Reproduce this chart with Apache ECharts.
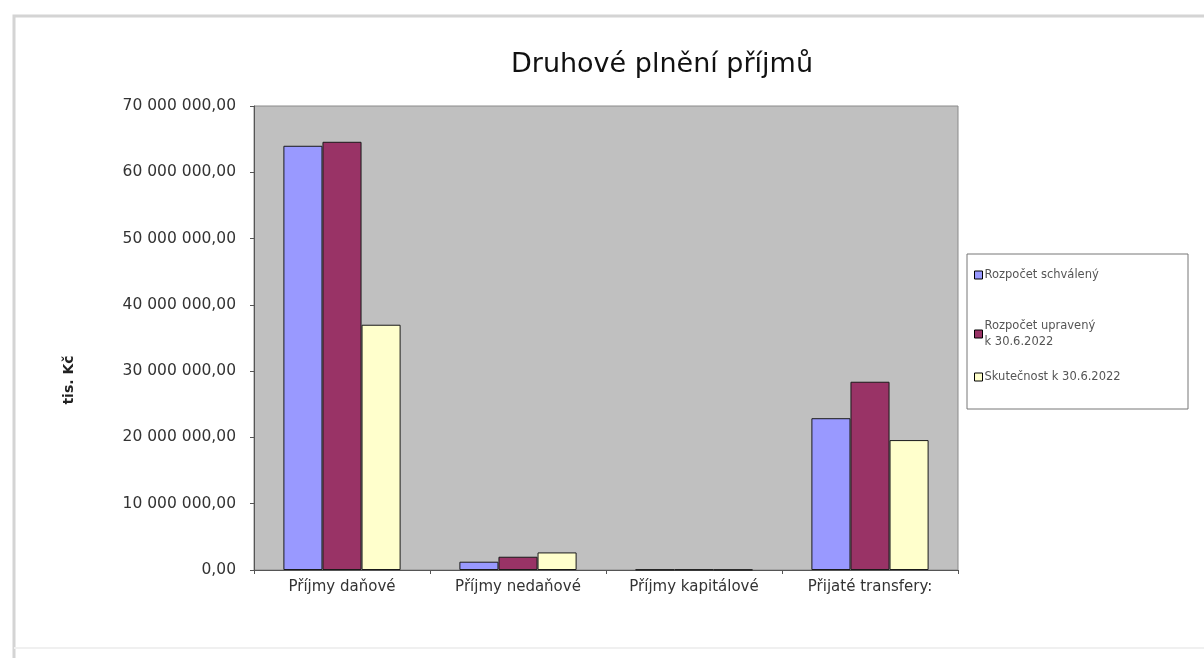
<!DOCTYPE html>
<html><head><meta charset="utf-8">
<script src="https://cdn.jsdelivr.net/npm/echarts@6/dist/echarts.min.js"></script>
<style>html,body{margin:0;padding:0;background:#fff}#c{width:1204px;height:660px}</style>
</head><body><div id="c"></div>
<script>
const categories = ['Příjmy daňové', 'Příjmy nedaňové', 'Příjmy kapitálové', 'Přijaté transfery:'];
const seriesNames = ['Rozpočet schválený', 'Rozpočet upravený\nk 30.6.2022', 'Skutečnost k 30.6.2022'];
const schvaleny = [64000000, 1250000, 60000, 22900000];
const upraveny = [64600000, 2000000, 70000, 28400000];
const skutecnost = [37000000, 2650000, 40000, 19600000];
const yTicks = [0, 10000000, 20000000, 30000000, 40000000, 50000000, 60000000, 70000000];

const colors = ['#9999ff', '#993366', '#ffffcc'];
const values = [schvaleny, upraveny, skutecnost];

function fmt(v) {
  const s = Math.round(v).toString().replace(/\B(?=(\d{3})+(?!\d))/g, ' ');
  return s + ',00';
}

const chart = echarts.init(document.getElementById('c'));
const font = 'DejaVu Sans, Verdana, sans-serif';
chart.setOption({
  backgroundColor: '#fff',
  animation: false,
  textStyle: { fontFamily: font },
  title: {
    text: 'Druhové plnění příjmů',
    left: 657, top: 46, textAlign: 'center',
    textStyle: { fontSize: 27, fontWeight: 'normal', color: '#111', fontFamily: font }
  },
  graphic: [
    { type: 'polyline', shape: { points: [[14, 658], [14, 16], [1204, 16]] }, style: { fill: 'none', stroke: '#d4d4d4', lineWidth: 3 }, silent: true },
    { type: 'line', shape: { x1: 14, y1: 648, x2: 1204, y2: 648 }, style: { stroke: '#f0f0f0', lineWidth: 2 }, silent: true },
    { type: 'rect', shape: { x: 967, y: 254, width: 221, height: 155 }, style: { fill: '#fff', stroke: '#777', lineWidth: 1 }, silent: true, z: -1 }
  ],
  legend: seriesNames.map((n, i) => ({
    data: [n],
    left: 969,
    top: [262, 313, 364][i],
    icon: 'rect',
    itemWidth: 8, itemHeight: 8, itemGap: 2,
    itemStyle: { borderColor: '#000', borderWidth: 1 },
    textStyle: { fontSize: 11.5, color: '#555', fontFamily: font, lineHeight: 16, padding: [0, 0, 0, -3] },
    selectedMode: false
  })),
  grid: {
    left: 254, right: 1204 - 958, top: 106, bottom: 660 - 570,
    show: true, backgroundColor: '#c0c0c0', borderColor: '#8a8a8a', borderWidth: 1
  },
  xAxis: {
    type: 'category', data: categories,
    axisLine: { lineStyle: { color: '#555' } },
    axisTick: { show: true, lineStyle: { color: '#555' }, length: 4 },
    axisLabel: { fontSize: 15, color: '#333', margin: 10, fontFamily: font }
  },
  yAxis: {
    type: 'value', min: 0, max: 70000000, interval: 10000000,
    name: 'tis. Kč', nameLocation: 'middle', nameGap: 178, nameRotate: 90,
    nameTextStyle: { fontSize: 14, fontWeight: 'bold', color: '#222', fontFamily: font, padding: [0, 0, 0, -84] },
    axisLine: { show: true, lineStyle: { color: '#555' } },
    axisTick: { show: true, lineStyle: { color: '#555' }, length: 4 },
    splitLine: { show: false },
    axisLabel: { fontSize: 15.5, color: '#333', margin: 18, formatter: v => fmt(v), fontFamily: font }
  },
  series: values.map((d, i) => ({
    name: seriesNames[i], type: 'bar', data: d,
    barWidth: '22.2%', barGap: '0%',
    itemStyle: { color: colors[i], borderColor: '#1a1a1a', borderWidth: 1 }
  }))
});
</script></body></html>
